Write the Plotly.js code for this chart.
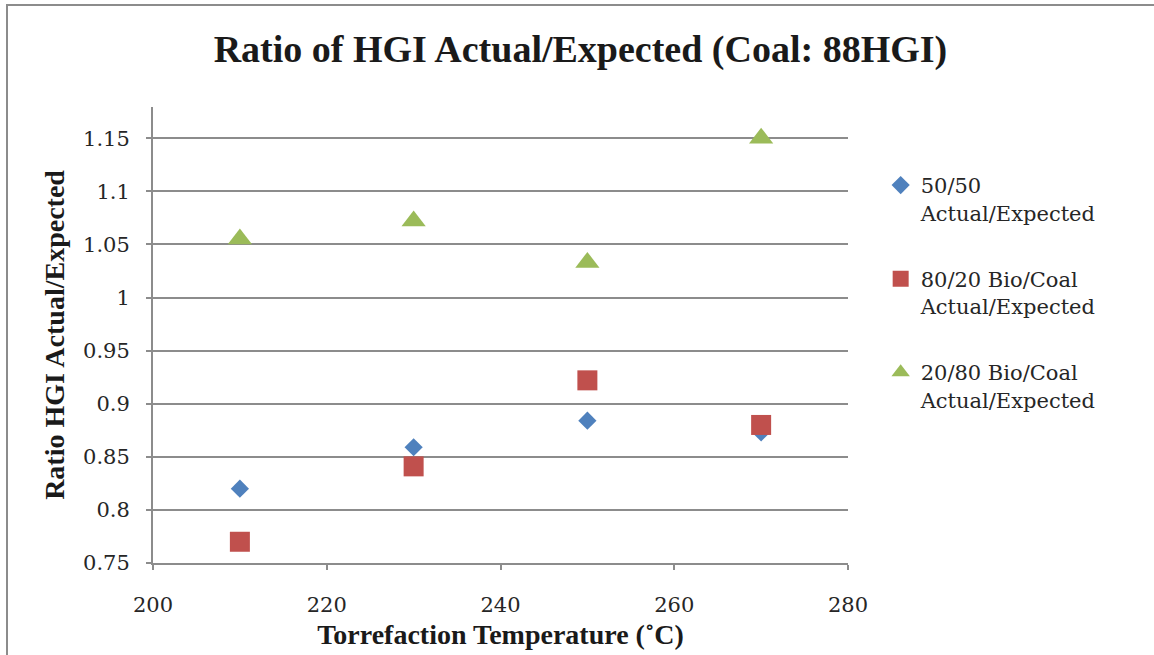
<!DOCTYPE html>
<html>
<head>
<meta charset="utf-8">
<script src="https://cdn.plot.ly/plotly-3.0.1.min.js"></script>
<style>
html,body{margin:0;padding:0;background:#fff;}
#wrap{position:relative;width:1154px;height:655px;}
#chart{position:absolute;left:0;top:0;width:1154px;height:655px;}
#frame{position:absolute;left:6px;top:4px;width:1148px;height:651px;border-left:2px solid #8c8c8c;border-top:2px solid #8c8c8c;pointer-events:none;}
</style>
</head>
<body>
<div id="wrap"><div id="chart"></div><div id="frame"></div></div>
<script>
const temperatures = [210, 230, 250, 270];
const ratio5050 = [0.820, 0.859, 0.884, 0.873];
const ratio8020 = [0.770, 0.841, 0.922, 0.880];
const ratio2080 = [1.055, 1.072, 1.033, 1.150];
const seriesNames = ['50/50<br>Actual/Expected', '80/20 Bio/Coal<br>Actual/Expected', '20/80 Bio/Coal<br>Actual/Expected'];
const yTicks = [0.75, 0.8, 0.85, 0.9, 0.95, 1, 1.05, 1.1, 1.15];
const yTickText = ['0.75', '0.8', '0.85', '0.9', '0.95', '1', '1.05', '1.1', '1.15'];
const xTicks = [200, 220, 240, 260, 280];

const serif = '"Liberation Serif", "DejaVu Serif", serif';
const wideSerif = '"DejaVu Serif", "Liberation Serif", serif';

const traces = [
  {x: temperatures, y: ratio5050, name: seriesNames[0], mode: 'markers', type: 'scatter', legendgroup: 'a',
   marker: {symbol: 'diamond', size: 14, color: '#4F81BD'}},
  {x: temperatures, y: ratio8020, name: seriesNames[1], mode: 'markers', type: 'scatter', legendgroup: 'b',
   marker: {symbol: 'square', size: 20, color: '#C0504D'}},
  {x: temperatures, y: ratio2080, name: seriesNames[2], mode: 'markers', type: 'scatter', legendgroup: 'c',
   marker: {symbol: 'triangle-up', size: 21, color: '#9BBB59'}}
];

const layout = {
  width: 1154, height: 655,
  margin: {l: 153, r: 306, t: 107, b: 92},
  paper_bgcolor: '#ffffff', plot_bgcolor: '#ffffff',
  showlegend: true,
  title: {text: '<b>Ratio of HGI Actual/Expected (Coal: 88HGI)</b>', font: {family: serif, size: 38, color: '#1a1a1a'},
          x: 0.503, xref: 'container', xanchor: 'center', y: 0.925, yanchor: 'middle'},
  xaxis: {range: [200, 280], tickvals: xTicks, ticktext: xTicks.map(String),
          showgrid: false, zeroline: false, showline: true, linecolor: '#8c8c8c', linewidth: 2,
          ticks: 'outside', ticklen: 5, tickcolor: '#8c8c8c', tickwidth: 2, ticklabelstandoff: 17,
          tickfont: {family: wideSerif, size: 21, color: '#262626'},
          title: {text: '<b>Torrefaction Temperature (˚C)</b>', font: {family: serif, size: 28, color: '#1a1a1a'}, standoff: 8}},
  yaxis: {range: [0.75, 1.1794], tickvals: yTicks, ticktext: yTickText,
          showgrid: true, gridcolor: '#8c8c8c', gridwidth: 2, zeroline: false, showline: true, linecolor: '#8c8c8c', linewidth: 2,
          ticks: 'outside', ticklen: 5, tickcolor: '#8c8c8c', tickwidth: 2, ticklabelstandoff: 12,
          tickfont: {family: wideSerif, size: 21, color: '#262626'},
          title: {text: '<b>Ratio HGI Actual/Expected</b>', font: {family: serif, size: 28, color: '#1a1a1a'}, standoff: 10}},
  legend: {x: 1.047, y: 0.873, xanchor: 'left', yanchor: 'top', font: {family: wideSerif, size: 21, color: '#262626'},
           valign: 'top', tracegroupgap: 36, traceorder: 'grouped', itemwidth: 30, bgcolor: 'rgba(0,0,0,0)'}
};

Plotly.newPlot('chart', traces, layout, {displayModeBar: false, staticPlot: true});
</script>
</body>
</html>
